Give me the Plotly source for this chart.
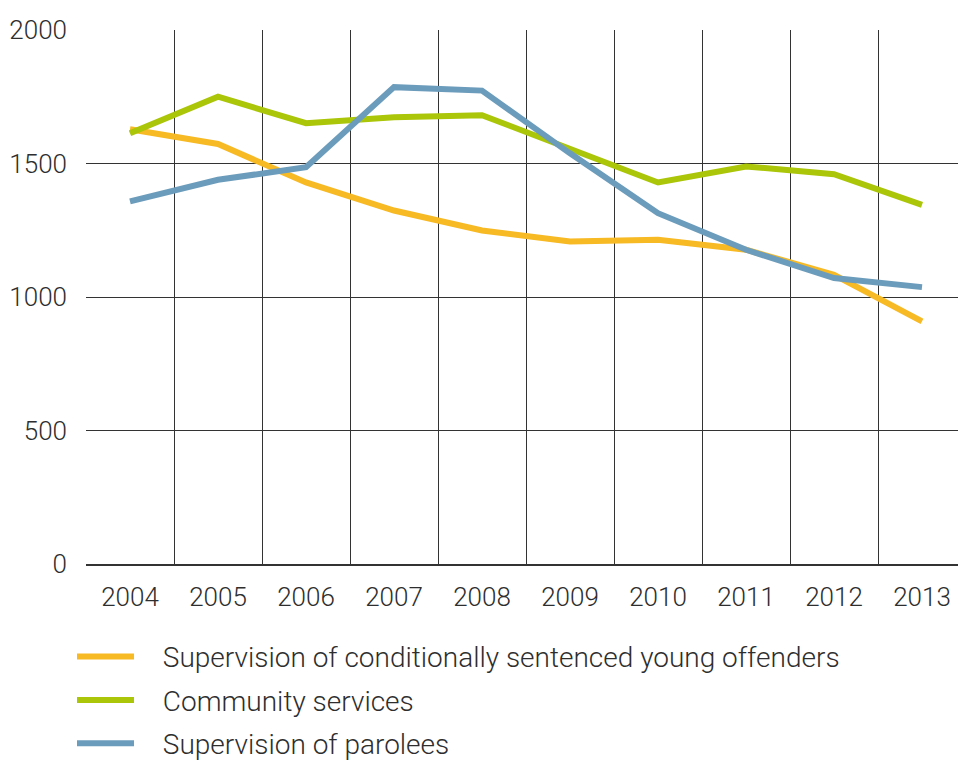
import plotly.graph_objects as go

years = ["2004", "2005", "2006", "2007", "2008", "2009", "2010", "2011", "2012", "2013"]
young_offenders = [1628, 1573, 1429, 1324, 1249, 1208, 1214, 1177, 1083, 909]
community_services = [1613, 1750, 1651, 1673, 1681, 1557, 1429, 1489, 1460, 1345]
parolees = [1358, 1439, 1486, 1786, 1773, 1538, 1314, 1177, 1071, 1037]

series = [
    ("Supervision of conditionally sentenced young offenders", young_offenders, "#F7B924"),
    ("Community services", community_services, "#ABC508"),
    ("Supervision of parolees", parolees, "#6C9CBB"),
]

FONT = "Roboto"
TXT = "#2e2e2e"

fig = go.Figure()
for i, (name, vals, col) in enumerate(series):
    fig.add_trace(go.Scatter(
        x=years, y=vals, name="\u2002\u2004" + name, mode="lines",
        line=dict(color=col, width=6), legendgroup=f"g{i}",
    ))

fig.update_layout(
    width=958, height=752,
    margin=dict(l=78, r=0, t=22, b=195.5, autoexpand=False),
    paper_bgcolor="white", plot_bgcolor="white",
    font=dict(family=FONT, size=26, color=TXT, weight=300),
    showlegend=True,
    legend=dict(
        x=-0.0159, xanchor="left", y=-0.127, yanchor="top",
        font=dict(family=FONT, size=28, color=TXT, weight=300),
        itemwidth=57, tracegroupgap=4, bgcolor="rgba(0,0,0,0)",
    ),
)
fig.update_xaxes(
    type="category", tickson="boundaries", showgrid=True,
    range=[-0.5, 9.5], automargin=False,
    gridcolor="#333333", gridwidth=1,
    showline=True, linecolor="#333333", linewidth=2,
    ticks="", ticklabelstandoff=9,
    tickfont=dict(family=FONT, size=26, color=TXT, weight=300),
    fixedrange=True,
)
fig.update_yaxes(
    range=[0, 2000], dtick=500, showgrid=True, automargin=False,
    gridcolor="#333333", gridwidth=1, zeroline=False,
    showline=False, ticks="", ticklabelstandoff=18,
    tickfont=dict(family=FONT, size=26, color=TXT, weight=300),
    fixedrange=True,
)

fig.write_html("out.html")
